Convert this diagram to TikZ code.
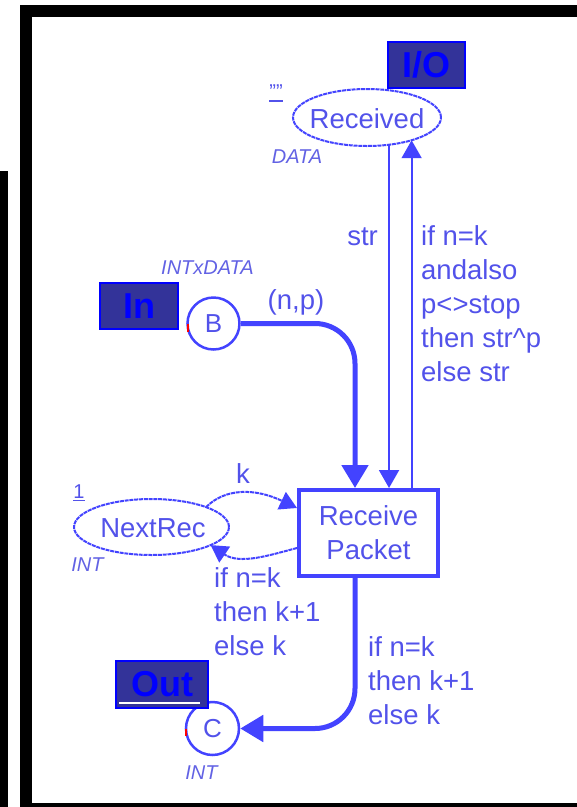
\documentclass[tikz,border=0pt]{standalone}
\usepackage{fontspec}
\setmainfont{Liberation Sans}
\usetikzlibrary{arrows.meta,shapes.geometric,calc}

\definecolor{arcblue}{HTML}{4343FF}
\definecolor{txtblue}{HTML}{5252EA}
\definecolor{typeblue}{HTML}{6262E4}
\definecolor{tagfill}{HTML}{333399}
\definecolor{tagline}{HTML}{0000FF}

% initial marking: text with a thick rule under it
\newcommand\markul[1]{\setbox0\hbox{#1}\rlap{\copy0}\rule[-3pt]{\wd0}{1.5pt}}

\begin{document}
\begin{tikzpicture}[x=1pt,y=-1pt,
  place/.style={ellipse, draw=arcblue, line width=2pt, dash pattern=on 4pt off 0.8pt,
                inner sep=0pt, outer sep=0pt},
  port/.style={circle, draw=arcblue, line width=2.5pt, inner sep=0pt, text=txtblue,
               font=\fontsize{26}{30}\selectfont},
  trans/.style={rectangle, draw=arcblue, line width=4pt, inner sep=0pt, text=txtblue,
                align=center, font=\fontsize{27.5}{34}\selectfont},
  txt/.style={text=txtblue, inner sep=0pt, font=\fontsize{27.5}{34}\selectfont},
  multi/.style={txt, align=left, anchor=north west},
  typelbl/.style={text=typeblue, inner sep=0pt, anchor=base,
                  font=\fontsize{20}{24}\selectfont\itshape},
  marklbl/.style={text=txtblue, inner sep=0pt, anchor=base,
                  font=\fontsize{20}{24}\selectfont},
  tagbox/.style={rectangle, fill=tagfill, draw=tagline, line width=2pt, text=tagline,
                 inner sep=0pt, outer sep=0pt, font=\fontsize{36}{40}\selectfont\bfseries},
  arc/.style={draw=arcblue, line width=2pt},
  thickarc/.style={draw=arcblue, line width=5pt},
  dasharc/.style={draw=arcblue, line width=2pt, dash pattern=on 4pt off 0.8pt},
  tipsmall/.style={-{Triangle[length=18pt,width=20pt]}},
  tipkarc/.style={-{Triangle[length=17pt,width=19pt]}},
  tipbig/.style={-{Triangle[length=23pt,width=26pt]}}
]
\useasboundingbox (0,0) rectangle (577,807);

% window frame
\fill[black] (20,5) rectangle (577,17);
\fill[black] (20,5) rectangle (32,807);
\fill[black] (20,803) rectangle (577,807);
\fill[black] (0,171) rectangle (8,807);

% places
\node[place, minimum width=148pt, minimum height=57pt] (rec) at (367,117.5) {};
\node[txt, anchor=base] (recname) at (367,128) {Received};
\node[typelbl] (rectype) at (297,163) {DATA};
\node[marklbl] (recmark) at (276,98.5) {\markul{""}};

\node[place, minimum width=155pt, minimum height=56pt] (nr) at (151.5,527) {};
\node[txt, anchor=base] (nrname) at (153,537) {NextRec};
\node[typelbl] (nrtype) at (87.5,571) {INT};
\node[marklbl] (nrmark) at (79,498) {\markul{1}};

\node[port, minimum size=52pt] (B) at (213.5,323.5) {B};
\node[typelbl] (Btype) at (207.5,274) {INTxDATA};
\node[port, minimum size=53pt] (C) at (212.5,728.5) {C};
\node[typelbl] (Ctype) at (201.5,779) {INT};

% small red ticks on the port places
\draw[red, line width=2pt] ($(B.west)+(1.5,0)$) -- ($(B.west)+(1.5,8)$);
\draw[red, line width=2pt] ($(C.west)+(1.5,0)$) -- ($(C.west)+(1.5,7)$);

% port tags
\node[tagbox, minimum width=77pt, minimum height=46pt] (io) at (426.5,65) {I/O};
\node[tagbox, minimum width=78pt, minimum height=46pt] (in) at (139,306) {In};
\node[tagbox, minimum width=92pt, minimum height=47pt] (out) at (162,684.5) {Out};
\draw[white, line width=1.2pt] ($(out.south west)+(3,-5)$) -- ($(out.south east)+(-8,-5)$);

% transition
\node[trans, minimum width=139pt, minimum height=86pt] (trn) at (368.5,533) {Receive\\Packet};

% arcs
\coordinate (xin) at (355,0);
\draw[arc, tipsmall] (rec.-51) -- (trn.north -| rec.-51);
\draw[arc, tipsmall] (trn.north -| rec.-27.5) -- (rec.-27.5);
\draw[thickarc, rounded corners=40pt, tipbig] (B.east) -| (trn.north -| xin);
\draw[thickarc, rounded corners=40pt, tipbig] (trn.south -| xin) |- (C.east);
\draw[dasharc, tipkarc] (nr.20) .. controls (225,488) and (255,488) .. ($(trn.west)+(0,-25)$);
\draw[dasharc, tipkarc] ($(trn.west)+(0,15)$) .. controls (270,555) and (240,565) .. (nr.-17);

% arc inscriptions
\node[txt, anchor=base east] (lstr) at (378,245) {str};
\node[multi] (lupd) at (421,221.2) {\strut if n=k\\andalso\\p<>stop\\then str\^{}p\\else str};
\node[txt, anchor=base] (lnp) at (296,309) {(n,p)};
\node[txt, anchor=base] (lk) at (243,483) {k};
\node[multi] (lnext) at (214,563.2) {\strut if n=k\\then k+1\\else k};
\node[multi] (lout) at (368,632.2) {\strut if n=k\\then k+1\\else k};
\end{tikzpicture}
\end{document}
